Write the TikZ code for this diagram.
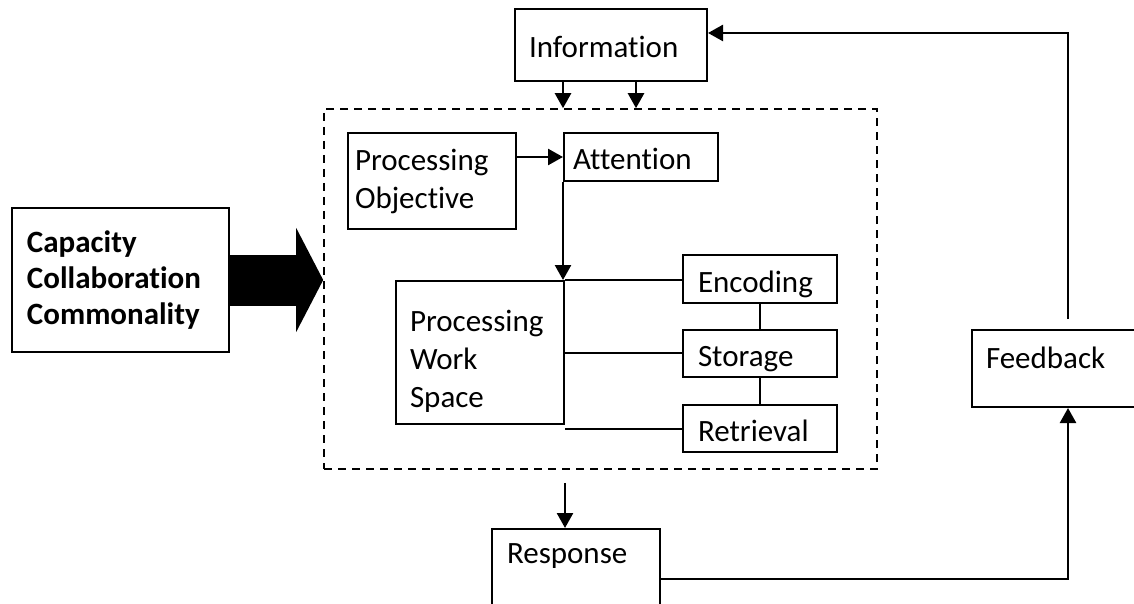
\documentclass[tikz,border=0pt]{standalone}
\usepackage{fontspec}
\setmainfont{Carlito}[Ligatures=NoCommon]
\usetikzlibrary{arrows.meta,positioning,calc}

\begin{document}
\begin{tikzpicture}[x=1pt, y=-1pt, every node/.style={font=\fontsize{31}{38}\selectfont},
  box/.style={draw, line width=2pt, align=left, inner ysep=0pt},
  one/.style={text height=28pt, text depth=2pt},
  arr/.style={line width=2.5pt, -{Triangle[length=15pt,width=16pt]}},
  link/.style={line width=2pt}]
  \clip (0,0) rectangle (1134,604);

  % Dashed frame
  \node[draw, dash pattern=on 8pt off 6pt, line width=1.6pt, minimum width=553pt, minimum height=360pt, inner sep=0pt] (core) at (600.5,289) {};

  % Input on top
  \node[box, one, text width=164pt, inner xsep=14pt, minimum height=72pt] (info) at (611,45) {Information};

  % Inside the frame
  \node[box, text width=154pt, inner xsep=7pt, minimum height=96pt] (po) at (432,181) {Processing\\Objective};
  \node[box, one, text width=136pt, inner xsep=9pt, minimum height=48pt] (att) at (641,157) {Attention};
  \node[box, text width=140pt, inner xsep=14pt, minimum height=143pt] (pws) at (480,352.5) {\rule{0pt}{38pt}Processing\\Work\\Space};
  \node[box, one, text width=124pt, inner xsep=15pt, minimum height=48pt] (enc) at (760,279) {Encoding};
  \node[box, one, text width=124pt, inner xsep=15pt, minimum height=47pt] (sto) at (760,353.5) {Storage};
  \node[box, one, text width=124pt, inner xsep=15pt, minimum height=47pt] (ret) at (760,428.5) {Retrieval};

  % Left driver
  \node[box, text width=187pt, inner xsep=15pt, minimum height=144pt, font=\fontsize{31}{36}\selectfont\bfseries] (cap) at (120.5,280) {Capacity\\Collaboration\\Commonality};

  % Output and loop back
  \node[box, text width=138pt, inner xsep=15pt, text height=34pt, text depth=66pt, anchor=north] (resp) at (576,528) {Response};
  \node[box, text width=164pt, inner xsep=14pt, text height=15pt, text depth=15pt, minimum height=77pt] (fb) at (1068,368.5) {Feedback};

  % Arrows
  \draw[arr] (info.south -| att.west) -- (core.north -| att.west);
  \draw[arr] ([xshift=25pt]info.south) -- ([xshift=25pt]info.south |- core.north);
  \draw[arr] (po.east |- att.west) -- (att.west);
  \draw[arr] (att.south west) -- (att.south west |- pws.north);
  \draw[link] (pws.north east) -- (pws.north east -| enc.west);
  \draw[link] (pws.east) -- (pws.east -| sto.west);
  \draw[link] (ret.west -| pws.east) -- (ret.west);
  \draw[link] (enc.south) -- (sto.north);
  \draw[link] (sto.south) -- (ret.north);
  \draw[line width=51pt, -{Triangle[length=27pt,width=103pt]}] (cap.east) -- (cap.east -| core.west);
  \draw[arr, shorten <=13pt] (core.south -| pws.east) -- (resp.north -| pws.east);
  \draw[arr] (resp.east) -| (fb.south);
  \draw[arr, shorten <=10pt] (fb.north) |- ([yshift=12pt]info.east);
\end{tikzpicture}
\end{document}
